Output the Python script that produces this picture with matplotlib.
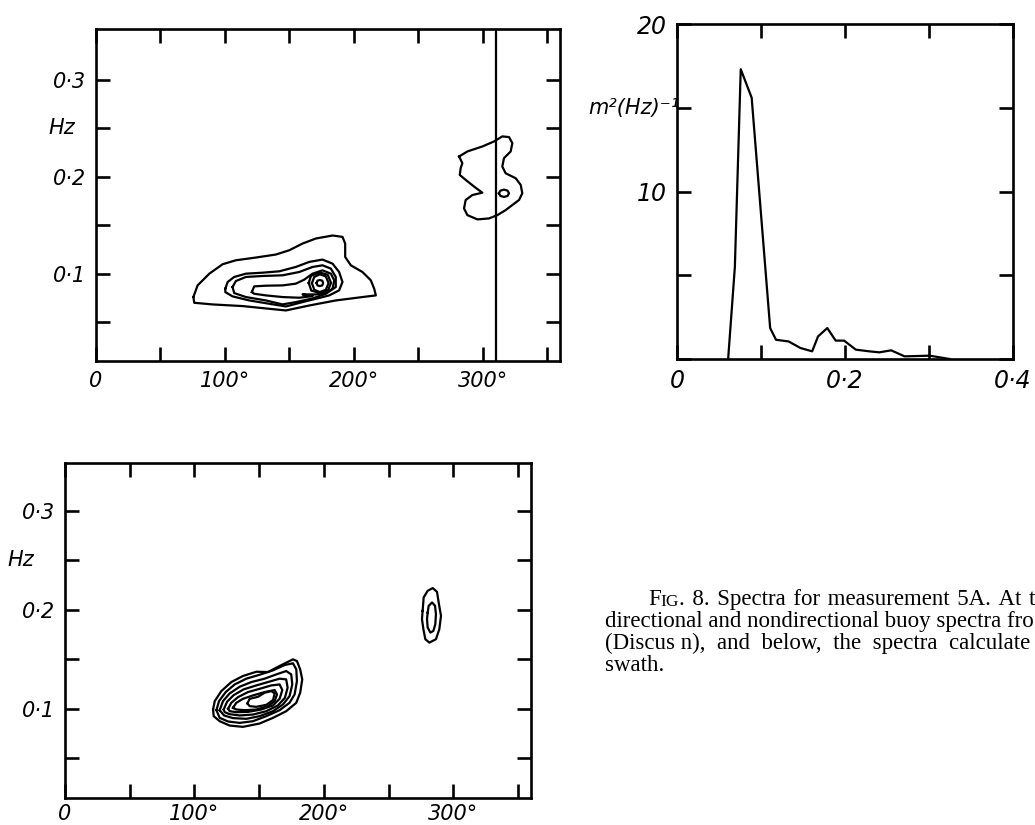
import matplotlib.pyplot as plt

# ---- data ----
# nondirectional buoy spectrum (top right)
spec_freq = [0.061, 0.069, 0.076, 0.089, 0.111, 0.118, 0.133, 0.147, 0.161, 0.168,
             0.179, 0.189, 0.199, 0.213, 0.229, 0.241, 0.255, 0.271, 0.301, 0.325]
spec_dens = [0.0, 5.5, 17.3, 15.6, 1.85, 1.15, 1.05, 0.66, 0.46, 1.35,
             1.85, 1.1, 1.1, 0.56, 0.46, 0.4, 0.52, 0.16, 0.2, 0.0]

# directional buoy spectrum contours (top left), (direction deg, frequency Hz)
buoy_contours = [
    [(75.5, 0.0759), (78.8, 0.0879), (87.9, 0.100), (98.2, 0.1097), (108.5, 0.1138),
     (124.0, 0.1166), (139.5, 0.1197), (149.9, 0.1241), (160.2, 0.131), (170.5, 0.1362),
     (183.5, 0.1393), (191.2, 0.1379), (193.3, 0.131), (193.3, 0.1172), (197.7, 0.1086),
     (206.7, 0.1017), (213.2, 0.0931), (215.8, 0.0845), (217.1, 0.0776), (206.7, 0.0759),
     (186.0, 0.0724), (165.4, 0.0672), (147.3, 0.0621), (134.4, 0.0638), (113.7, 0.0666),
     (90.4, 0.0683), (76.2, 0.070), (75.5, 0.0759)],
    [(100.3, 0.0845), (102.1, 0.0914), (107.2, 0.0966), (116.3, 0.100), (129.2, 0.101),
     (142.1, 0.1024), (155.0, 0.1069), (165.4, 0.1121), (175.7, 0.1145), (183.5, 0.1103),
     (188.6, 0.1017), (191.2, 0.0914), (188.6, 0.0828), (180.9, 0.0776), (170.5, 0.0741),
     (160.2, 0.0707), (147.3, 0.0662), (134.4, 0.069), (118.9, 0.0724), (105.9, 0.0766),
     (100.3, 0.081), (100.3, 0.0845)],
    [(105.9, 0.0862), (108.5, 0.0924), (116.3, 0.0966), (129.2, 0.0976), (144.7, 0.0983),
     (157.6, 0.1017), (168.0, 0.1069), (175.7, 0.1086), (182.2, 0.1052), (186.0, 0.0966),
     (186.0, 0.0862), (178.3, 0.0793), (168.0, 0.0745), (155.0, 0.0707), (144.7, 0.0683),
     (131.8, 0.0724), (116.3, 0.0759), (107.2, 0.080), (105.9, 0.0862)],
    [(120.9, 0.081), (122.7, 0.0869), (131.8, 0.0876), (144.7, 0.0879), (155.0, 0.0897),
     (161.5, 0.0938), (168.0, 0.100), (175.7, 0.1034), (182.2, 0.100), (184.8, 0.0931),
     (183.5, 0.0845), (178.3, 0.080), (170.5, 0.0786), (160.2, 0.0786), (168.0, 0.0769),
     (157.6, 0.0752), (144.7, 0.0759), (131.8, 0.0776), (122.7, 0.0793), (120.9, 0.081)],
    [(165.0, 0.0905), (166.8, 0.0978), (173.6, 0.1012), (179.8, 0.0988), (182.3, 0.0905),
     (180.0, 0.0828), (173.6, 0.0800), (167.0, 0.0826), (165.0, 0.0905)],
    [(167.5, 0.0903), (169.3, 0.0966), (173.6, 0.0993), (178.3, 0.0972), (180.4, 0.0903),
     (178.3, 0.0834), (173.6, 0.081), (169.3, 0.0834), (167.5, 0.0903)],
    [(171.1, 0.0903), (171.8, 0.0928), (173.6, 0.0934), (175.5, 0.0928), (176.2, 0.0903),
     (175.5, 0.0879), (173.6, 0.0872), (171.8, 0.0879), (171.1, 0.0903)],
    [(281.7, 0.2207), (288.1, 0.2259), (299.7, 0.231), (308.8, 0.2362), (315.2, 0.2414),
     (320.4, 0.2407), (323.0, 0.2345), (321.7, 0.2259), (316.5, 0.219), (315.2, 0.2103),
     (317.8, 0.2034), (325.6, 0.1983), (329.5, 0.1914), (330.7, 0.1828), (328.2, 0.1759),
     (323.0, 0.1707), (317.8, 0.1655), (311.4, 0.1603), (304.9, 0.1569), (295.9, 0.1559),
     (288.1, 0.1603), (285.5, 0.1672), (286.8, 0.1759), (292.0, 0.181), (299.7, 0.1834),
     (293.3, 0.1897), (286.8, 0.1966), (282.2, 0.2017), (282.9, 0.2086), (284.2, 0.2138),
     (281.7, 0.2207)],
    [(312.6, 0.1828), (313.7, 0.1855), (316.5, 0.1866), (319.3, 0.1855), (320.4, 0.1828),
     (319.3, 0.1801), (316.5, 0.179), (313.7, 0.1801), (312.6, 0.1828)],
]
buoy_line_dir = 310

# spectrum calculated from the swath (bottom left)
swath_contours = [
    [(114.4, 0.0993), (115.7, 0.1078), (120.8, 0.1179), (128.5, 0.127), (137.5, 0.1331),
     (147.8, 0.1374), (156.8, 0.1371), (165.8, 0.1432), (176.1, 0.1499), (179.2, 0.1482),
     (181.7, 0.1398), (183.3, 0.1297), (181.7, 0.1162), (178.7, 0.1061), (170.9, 0.0976),
     (160.7, 0.0909), (150.4, 0.0852), (137.5, 0.0818), (127.2, 0.0831), (119.5, 0.0875),
     (114.9, 0.0926), (114.4, 0.0993)],
    [(117.0, 0.0986), (119.0, 0.1078), (124.2, 0.1169), (131.1, 0.1246), (140.1, 0.1304),
     (150.4, 0.1344), (160.7, 0.1388), (169.7, 0.1442), (176.1, 0.1459), (178.7, 0.1398),
     (179.2, 0.128), (177.4, 0.1145), (173.5, 0.1061), (165.8, 0.0986), (155.5, 0.0926),
     (145.2, 0.0875), (135.0, 0.0858), (126.0, 0.0872), (119.5, 0.0909), (117.0, 0.0986)],
    [(119.5, 0.0986), (122.1, 0.1078), (127.2, 0.1155), (135.0, 0.1223), (144.0, 0.127),
     (154.2, 0.1304), (163.2, 0.1347), (170.9, 0.1381), (174.8, 0.1347), (175.6, 0.1246),
     (173.5, 0.1128), (168.4, 0.1044), (160.7, 0.0976), (150.4, 0.0926), (140.1, 0.0899),
     (129.8, 0.0906), (122.9, 0.0933), (119.5, 0.0986)],
    [(122.6, 0.0993), (125.2, 0.1071), (130.3, 0.1138), (138.0, 0.1196), (147.8, 0.1236),
     (156.8, 0.127), (165.8, 0.1304), (170.9, 0.1297), (172.0, 0.1213), (169.9, 0.1111),
     (164.5, 0.1034), (155.5, 0.0976), (145.2, 0.0942), (135.0, 0.0933), (127.2, 0.0946),
     (123.4, 0.0966), (122.6, 0.0993)],
    [(126.0, 0.100), (128.5, 0.1061), (133.7, 0.1118), (141.4, 0.1169), (150.4, 0.1202),
     (159.4, 0.1236), (165.8, 0.1246), (167.9, 0.1189), (165.8, 0.1101), (160.7, 0.1034),
     (151.7, 0.0993), (141.4, 0.0969), (132.4, 0.0966), (127.2, 0.0976), (126.0, 0.100)],
    [(129.8, 0.101), (132.4, 0.1061), (137.5, 0.1101), (145.2, 0.1135), (154.2, 0.1169),
     (162.0, 0.1189), (163.8, 0.1145), (162.0, 0.1078), (156.8, 0.1027), (147.8, 0.0993),
     (138.8, 0.0986), (132.4, 0.0993), (129.8, 0.101)],
    [(140.9, 0.1054), (142.7, 0.1101), (149.1, 0.1121), (154.2, 0.1162), (159.4, 0.1179),
     (162.0, 0.1155), (160.7, 0.1088), (155.5, 0.104), (147.8, 0.102), (142.7, 0.1027),
     (140.9, 0.1054)],
    [(276.3, 0.1988), (277.1, 0.2123), (280.2, 0.2191), (284.1, 0.2218), (287.4, 0.218),
     (288.7, 0.2073), (290.5, 0.1938), (289.2, 0.1803), (286.6, 0.1702), (281.5, 0.1668),
     (278.4, 0.1702), (276.9, 0.1803), (275.8, 0.1904), (276.3, 0.1988)],
    [(280.2, 0.1971), (281.0, 0.2039), (283.6, 0.2073), (285.9, 0.2039), (286.6, 0.1955),
     (286.1, 0.1853), (284.6, 0.1786), (282.3, 0.1769), (280.2, 0.182), (279.7, 0.1904),
     (280.2, 0.1971)],
]

dir_ticks = [0, 50, 100, 150, 200, 250, 300, 350]
dir_labels = ['0', '', '100°', '', '200°', '', '300°', '']
freq_ticks = [0.05, 0.10, 0.15, 0.20, 0.25, 0.30]
freq_labels = ['', '0·1', '', '0·2', '', '0·3']
spec_xticks = [0, 0.1, 0.2, 0.3, 0.4]
spec_xlabels = ['0', '', '0·2', '', '0·4']
spec_yticks = [0, 5, 10, 15, 20]
spec_ylabels = ['', '', '10', '', '20']

LW = 1.6
lab_font = dict(family='DejaVu Sans', style='italic')


def frame(ax, size, xpad=7):
    for s in ax.spines.values():
        s.set_linewidth(1.9)
    ax.tick_params(which='both', direction='in', length=10, width=1.9,
                   top=True, right=True, labelsize=size, pad=7)
    ax.tick_params(axis='x', pad=xpad)
    for t in ax.get_xticklabels() + ax.get_yticklabels():
        t.set_fontfamily(lab_font['family'])
        t.set_fontstyle(lab_font['style'])


def direction_panel(ax, contours, hz_offset, ytop, xpad):
    for c in contours:
        d, f = zip(*c)
        ax.plot(d, f, color='k', lw=LW)
    ax.set_xlim(0, 360)
    ax.set_ylim(0.01, ytop)
    ax.set_xticks(dir_ticks, dir_labels)
    ax.set_yticks(freq_ticks, freq_labels)
    frame(ax, 15, xpad)
    ax.annotate('Hz', xy=(0, 0.25), xytext=(hz_offset, 0), textcoords='offset points',
                ha='right', va='center', fontsize=15, **lab_font)


fig = plt.figure(figsize=(10.35, 8.25), dpi=100)

ax1 = fig.add_axes([0.0928, 0.5624, 0.4483, 0.4024])
direction_panel(ax1, buoy_contours, -15, 0.352, 7)
ax1.axvline(buoy_line_dir, color='k', lw=LW)

ax2 = fig.add_axes([0.654, 0.5648, 0.3247, 0.4061])
ax2.plot(spec_freq, spec_dens, color='k', lw=LW)
ax2.set_xlim(0, 0.4)
ax2.set_ylim(0, 20)
ax2.set_xticks(spec_xticks, spec_xlabels)
ax2.set_yticks(spec_yticks, spec_ylabels)
frame(ax2, 17)
ax2.annotate('m²(Hz)⁻¹', xy=(0, 15), xytext=(2, 0), textcoords='offset points',
             ha='right', va='center', fontsize=15, **lab_font)

ax3 = fig.add_axes([0.0628, 0.0327, 0.4502, 0.4061])
direction_panel(ax3, swath_contours, -22, 0.348, 4)

# caption, with "FIG" in small capitals; wider spaces mimic the justified lines
cap_font = dict(family=['Liberation Serif', 'DejaVu Serif'], fontsize=16.5)
t_f = fig.text(648 / 1035, 1 - 605 / 825, 'F', va='baseline', **cap_font)
t_ig = ax2.annotate('IG', xy=(1, 0), xycoords=t_f, va='bottom', ha='left',
                    family=['Liberation Serif', 'DejaVu Serif'], fontsize=12.5,
                    annotation_clip=False)
ax2.annotate('.\u20048.\u2004Spectra\u2004for\u2004measurement\u20045A.\u2004At\u2004t',
             xy=(1, 0), xycoords=t_ig, va='bottom', ha='left', annotation_clip=False,
             **cap_font)
caption = [
    (627, 'directional and nondirectional buoy spectra fro'),
    (649, '(Discus n),\u2002and\u2002below,\u2002the\u2002spectra\u2002calculate'),
    (671, 'swath.'),
]
for py, line in caption:
    fig.text(605 / 1035, 1 - py / 825, line, va='baseline', ha='left', **cap_font)

fig.savefig('out.png', dpi=100)
